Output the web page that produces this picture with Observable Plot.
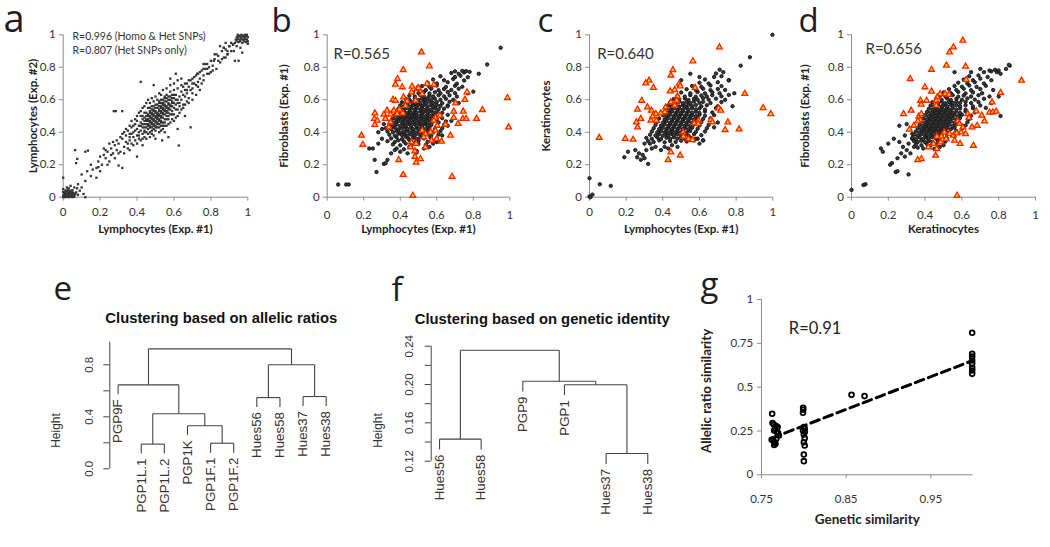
<!DOCTYPE html>
<html><head><meta charset="utf-8">
<script src="https://cdn.jsdelivr.net/npm/d3@7"></script>
<script src="https://cdn.jsdelivr.net/npm/@observablehq/plot@0.6"></script>
<style>
html,body{margin:0;padding:0;background:#fff;}
#fig{position:relative;width:1050px;height:547px;overflow:hidden;background:#fff;}
#fig svg{position:absolute;max-width:none;}
</style></head><body><div id="fig"></div>
<script>
// ---------------- DATA ----------------
const unitTicks = [0, 0.2, 0.4, 0.6, 0.8, 1];

// panel a: Lymphocytes Exp.#1 (x) vs Exp.#2 (y)
const aBlobLow = [[0,0],[0.01,0],[0.02,0.003],[0.03,0],[0.04,0.002],[0.05,0],[0.06,0.003],[0,0.01],[0.01,0.012],[0.02,0.01],[0.03,0.013],[0.04,0.01],[0.05,0.012],[0.06,0.01],[0.005,0.022],[0.015,0.02],[0.025,0.024],[0.035,0.02],[0.045,0.022],[0.055,0.025],[0.065,0.02],[0,0.032],[0.01,0.03],[0.02,0.035],[0.03,0.03],[0.04,0.033],[0.05,0.03],[0.012,0.042],[0.025,0.045],[0.038,0.04],[0.05,0.043],[0.07,0.03],[0.08,0.015],[0.09,0.04],[0.1,0.06],[0.075,0.055],[0.12,0.0],[0.11,0.02],[0.0,0.12],[0.02,0.06],[0.04,0.07],[0.06,0.06],[0.0,0.05],[0.03,0.055]];
const aBlobHigh = [[0.93,0.95],[0.94,0.96],[0.95,0.955],[0.96,0.96],[0.97,0.95],[0.98,0.96],[0.99,0.955],[1.0,0.96],[0.935,0.97],[0.945,0.975],[0.955,0.97],[0.965,0.975],[0.975,0.97],[0.985,0.975],[0.995,0.97],[0.94,0.985],[0.95,0.99],[0.96,0.985],[0.97,0.99],[0.98,0.985],[0.99,0.99],[1.0,0.985],[0.945,1.0],[0.955,0.995],[0.965,1.0],[0.975,0.995],[0.985,1.0],[0.995,1.0],[1.0,0.945],[0.92,0.94],[0.90,0.93],[0.91,0.95],[0.88,0.95],[0.87,0.92],[0.96,0.92],[0.97,0.89],[0.94,0.93],[0.85,0.93],[0.93,0.84],[0.89,0.9]];
const aCloud = [[0.08,0.08],[0.1,0.14],[0.12,0.1],[0.13,0.16],[0.15,0.13],[0.16,0.17],[0.18,0.18],[0.19,0.22],[0.2,0.25],[0.21,0.2],[0.22,0.26],[0.23,0.24],[0.24,0.28],[0.25,0.22],[0.26,0.3],[0.27,0.27],[0.28,0.32],[0.29,0.29],
[0.065,0.29],[0.07,0.21],[0.12,0.28],[0.274,0.53],[0.285,0.53],[0.32,0.53],[0.42,0.71],[0.076,0.236],[0.134,0.287],[0.19,0.185],[0.30,0.195],[0.32,0.18],[0.22,0.3],[0.626,0.318],[0.536,0.35],[0.57,0.37],[0.69,0.43],[0.61,0.76],[0.49,0.69],[0.58,0.73],[0.726,0.76],[0.76,0.82],[0.78,0.79],[0.816,0.84],[0.83,0.88],[0.89,0.88],[0.87,0.92],[0.95,0.84],[0.924,0.90],[0.40,0.25],[0.43,0.32],[0.62,0.42],[0.66,0.50],
[0.30,0.33],[0.31,0.28],[0.32,0.36],[0.33,0.31],[0.34,0.38],[0.34,0.34],[0.35,0.30],[0.35,0.41],[0.36,0.35],[0.36,0.39],[0.37,0.33],[0.37,0.43],[0.38,0.37],[0.38,0.40],[0.39,0.35],[0.39,0.45],
[0.40,0.38],[0.40,0.42],[0.40,0.47],[0.41,0.40],[0.41,0.36],[0.41,0.44],[0.42,0.41],[0.42,0.46],[0.42,0.50],[0.43,0.39],[0.43,0.43],[0.43,0.48],[0.44,0.41],[0.44,0.45],[0.44,0.52],[0.44,0.37],[0.45,0.43],[0.45,0.47],[0.45,0.50],[0.45,0.40],
[0.46,0.42],[0.46,0.45],[0.46,0.48],[0.46,0.51],[0.46,0.55],[0.47,0.40],[0.47,0.44],[0.47,0.47],[0.47,0.50],[0.47,0.53],[0.48,0.43],[0.48,0.46],[0.48,0.49],[0.48,0.52],[0.48,0.56],[0.48,0.39],[0.49,0.45],[0.49,0.48],[0.49,0.51],[0.49,0.54],[0.49,0.42],[0.50,0.44],[0.50,0.47],[0.50,0.50],[0.50,0.53],[0.50,0.57],[0.50,0.41],
[0.51,0.46],[0.51,0.49],[0.51,0.52],[0.51,0.55],[0.51,0.43],[0.52,0.48],[0.52,0.51],[0.52,0.54],[0.52,0.58],[0.52,0.45],[0.53,0.47],[0.53,0.50],[0.53,0.53],[0.53,0.56],[0.53,0.60],[0.53,0.44],[0.54,0.49],[0.54,0.52],[0.54,0.55],[0.54,0.58],[0.54,0.46],[0.55,0.51],[0.55,0.54],[0.55,0.57],[0.55,0.61],[0.55,0.48],[0.55,0.44],
[0.56,0.50],[0.56,0.53],[0.56,0.56],[0.56,0.59],[0.56,0.63],[0.57,0.52],[0.57,0.55],[0.57,0.58],[0.57,0.48],[0.57,0.62],[0.58,0.54],[0.58,0.57],[0.58,0.60],[0.58,0.51],[0.58,0.65],[0.59,0.56],[0.59,0.59],[0.59,0.53],[0.59,0.63],[0.60,0.58],[0.60,0.55],[0.60,0.61],[0.60,0.66],[0.60,0.51],
[0.61,0.57],[0.61,0.63],[0.62,0.60],[0.62,0.54],[0.62,0.67],[0.63,0.62],[0.63,0.58],[0.64,0.65],[0.64,0.60],[0.64,0.69],[0.65,0.63],[0.65,0.57],[0.66,0.66],[0.66,0.62],[0.67,0.70],[0.67,0.64],[0.68,0.68],[0.68,0.61],[0.69,0.72],[0.69,0.66],[0.70,0.70],[0.70,0.64],
[0.71,0.74],[0.72,0.69],[0.73,0.76],[0.73,0.71],[0.74,0.73],[0.75,0.78],[0.75,0.70],[0.76,0.75],[0.77,0.79],[0.77,0.82],[0.78,0.76],[0.79,0.80],[0.80,0.77],[0.80,0.84],[0.81,0.81],[0.82,0.85],[0.83,0.79],[0.84,0.87],[0.85,0.83],[0.86,0.90],[0.87,0.86],[0.88,0.91],[0.89,0.88],[0.90,0.93],[0.91,0.90],[0.92,0.94],
[0.44,0.47],[0.45,0.45],[0.46,0.47],[0.47,0.49],[0.48,0.51],[0.49,0.50],[0.50,0.49],[0.50,0.52],[0.51,0.51],[0.51,0.50],[0.52,0.50],[0.52,0.53],[0.53,0.52],[0.53,0.55],[0.54,0.54],[0.54,0.51],[0.55,0.53],[0.55,0.56],[0.56,0.55],[0.57,0.57],[0.47,0.46],[0.48,0.48],[0.49,0.47],[0.46,0.44],[0.43,0.45],[0.42,0.44],[0.51,0.48],[0.52,0.47],[0.56,0.52],[0.58,0.56],[0.59,0.58],[0.57,0.54],[0.45,0.48],[0.44,0.43],[0.53,0.49],[0.50,0.46],[0.49,0.53],[0.48,0.54],[0.47,0.52],[0.52,0.56],[0.55,0.59],[0.54,0.57],
[0.40,0.50],[0.41,0.52],[0.42,0.53],[0.43,0.55],[0.44,0.56],[0.45,0.58],[0.46,0.60],[0.47,0.58],[0.48,0.61],[0.49,0.59],[0.50,0.62],[0.51,0.60],[0.52,0.64],[0.53,0.63],[0.54,0.66],[0.56,0.67],[0.58,0.69],[0.60,0.70],[0.62,0.72],[0.64,0.73],
[0.45,0.36],[0.47,0.37],[0.49,0.38],[0.50,0.36],[0.52,0.40],[0.53,0.41],[0.54,0.42],[0.55,0.40],[0.56,0.44],[0.57,0.45],[0.58,0.46],[0.59,0.48],[0.60,0.47],[0.61,0.49],[0.62,0.50],[0.63,0.52],[0.64,0.54],[0.65,0.55],[0.66,0.57],[0.67,0.59],[0.68,0.58],[0.70,0.60],[0.72,0.63],[0.74,0.66],
[0.36,0.44],[0.37,0.47],[0.38,0.44],[0.39,0.48],[0.34,0.42],[0.33,0.40],[0.32,0.39],[0.31,0.37],[0.29,0.35],[0.27,0.34],[0.25,0.33],[0.23,0.29],
[0.38,0.32],[0.40,0.33],[0.42,0.35],[0.43,0.36],[0.46,0.39],[0.48,0.41],[0.51,0.45],[0.44,0.40],[0.41,0.38],[0.39,0.41],[0.37,0.39],[0.36,0.37],
[0.46,0.50],[0.47,0.55],[0.45,0.52],[0.44,0.49],[0.43,0.50],[0.49,0.56],[0.50,0.55],[0.51,0.57],[0.52,0.59],[0.53,0.58],[0.54,0.60],[0.55,0.62],[0.56,0.61],[0.57,0.60],[0.58,0.62],[0.59,0.61],[0.60,0.63],[0.61,0.60],[0.62,0.58],[0.63,0.56],[0.61,0.54],[0.59,0.51],[0.57,0.50],[0.56,0.48],[0.55,0.46],[0.54,0.44],[0.53,0.46],[0.52,0.43],[0.50,0.43],[0.49,0.44],[0.48,0.45],[0.47,0.43],
[0.65,0.68],[0.66,0.70],[0.68,0.72],[0.70,0.73],[0.71,0.70],[0.72,0.75],[0.74,0.77],[0.76,0.79],[0.78,0.82],[0.79,0.76],[0.81,0.78],[0.82,0.88],[0.84,0.84],[0.86,0.85],[0.88,0.86],[0.76,0.72],[0.73,0.68],[0.70,0.67],[0.67,0.66],
[0.18,0.12],[0.15,0.2],[0.2,0.16],[0.24,0.2],[0.26,0.26],[0.28,0.24],[0.3,0.27],[0.33,0.27],[0.35,0.33],[0.36,0.29]];

// panel b: Lymphocytes (x) vs Fibroblasts (y)
const bBlack = [[0.38,0.30],[0.42,0.295],[0.45,0.31],[0.49,0.285],[0.53,0.30],[0.56,0.31],
[0.36,0.325],[0.40,0.32],[0.43,0.33],[0.46,0.318],[0.50,0.327],[0.54,0.322],[0.58,0.33],
[0.33,0.345],[0.37,0.34],[0.39,0.35],[0.42,0.343],[0.45,0.352],[0.48,0.338],[0.50,0.347],[0.55,0.341],[0.59,0.35],
[0.35,0.362],[0.38,0.368],[0.41,0.358],[0.43,0.372],[0.445,0.36],[0.47,0.366],[0.49,0.359],[0.51,0.37],[0.53,0.362],[0.565,0.368],[0.60,0.36],
[0.34,0.385],[0.37,0.378],[0.39,0.39],[0.41,0.382],[0.425,0.388],[0.44,0.379],[0.46,0.386],[0.48,0.381],[0.50,0.39],[0.52,0.383],[0.55,0.387],[0.57,0.38],[0.61,0.386],
[0.33,0.405],[0.36,0.40],[0.38,0.408],[0.40,0.398],[0.42,0.404],[0.435,0.41],[0.45,0.401],[0.47,0.407],[0.48,0.399],[0.50,0.405],[0.515,0.41],[0.53,0.402],[0.55,0.408],[0.58,0.40],[0.62,0.406],
[0.32,0.425],[0.35,0.42],[0.37,0.428],[0.39,0.418],[0.41,0.424],[0.43,0.43],[0.44,0.421],[0.46,0.427],[0.47,0.419],[0.49,0.426],[0.50,0.42],[0.52,0.428],[0.54,0.421],[0.56,0.426],[0.59,0.42],[0.63,0.425],
[0.34,0.445],[0.36,0.44],[0.38,0.448],[0.40,0.439],[0.42,0.446],[0.43,0.44],[0.45,0.449],[0.46,0.441],[0.48,0.447],[0.49,0.44],[0.51,0.446],[0.52,0.439],[0.54,0.448],[0.55,0.442],[0.57,0.445],[0.60,0.44],[0.64,0.447],
[0.35,0.465],[0.37,0.46],[0.39,0.468],[0.41,0.459],[0.42,0.466],[0.44,0.46],[0.45,0.469],[0.47,0.461],[0.48,0.467],[0.50,0.46],[0.51,0.466],[0.53,0.459],[0.54,0.468],[0.56,0.462],[0.58,0.466],[0.61,0.46],[0.65,0.467],
[0.36,0.485],[0.38,0.48],[0.40,0.488],[0.41,0.479],[0.43,0.486],[0.44,0.48],[0.46,0.489],[0.47,0.481],[0.49,0.487],[0.50,0.48],[0.52,0.486],[0.53,0.479],[0.55,0.488],[0.56,0.482],[0.58,0.485],[0.60,0.48],[0.63,0.487],
[0.37,0.505],[0.39,0.50],[0.41,0.508],[0.42,0.499],[0.44,0.506],[0.45,0.50],[0.47,0.509],[0.48,0.501],[0.49,0.507],[0.51,0.50],[0.52,0.506],[0.54,0.499],[0.55,0.508],[0.57,0.502],[0.59,0.505],[0.62,0.50],[0.66,0.507],
[0.38,0.525],[0.40,0.52],[0.42,0.528],[0.43,0.519],[0.45,0.526],[0.46,0.52],[0.48,0.529],[0.49,0.521],[0.51,0.527],[0.52,0.52],[0.53,0.526],[0.55,0.519],[0.56,0.528],[0.58,0.522],[0.60,0.525],[0.63,0.52],
[0.39,0.545],[0.41,0.54],[0.43,0.548],[0.45,0.539],[0.46,0.546],[0.48,0.54],[0.49,0.549],[0.51,0.541],[0.52,0.547],[0.54,0.54],[0.55,0.546],[0.57,0.539],[0.59,0.548],[0.61,0.542],[0.64,0.545],
[0.40,0.565],[0.42,0.56],[0.44,0.568],[0.46,0.559],[0.47,0.566],[0.49,0.56],[0.50,0.569],[0.52,0.561],[0.53,0.567],[0.55,0.56],[0.57,0.566],[0.58,0.559],[0.60,0.568],[0.62,0.562],[0.66,0.565],
[0.41,0.585],[0.44,0.58],[0.46,0.588],[0.48,0.579],[0.50,0.586],[0.51,0.58],[0.53,0.589],[0.54,0.581],[0.56,0.587],[0.58,0.58],[0.60,0.586],[0.63,0.579],[0.67,0.588],
[0.43,0.605],[0.45,0.60],[0.48,0.608],[0.50,0.599],[0.52,0.606],[0.54,0.60],[0.55,0.609],[0.57,0.601],[0.59,0.607],[0.62,0.60],[0.65,0.606],[0.69,0.60],
[0.45,0.625],[0.48,0.62],[0.51,0.628],[0.53,0.619],[0.56,0.626],[0.58,0.62],[0.61,0.628],[0.64,0.621],[0.67,0.627],[0.71,0.62],
[0.47,0.645],[0.50,0.64],[0.53,0.648],[0.56,0.639],[0.59,0.646],[0.62,0.64],[0.66,0.648],[0.70,0.641],
[0.50,0.665],[0.54,0.66],[0.57,0.668],[0.61,0.659],[0.64,0.666],[0.68,0.66],[0.72,0.668],
[0.52,0.685],[0.56,0.68],[0.60,0.688],[0.65,0.679],[0.70,0.686],[0.74,0.68],
[0.55,0.705],[0.60,0.70],[0.66,0.708],[0.71,0.699],[0.58,0.725],[0.64,0.72],[0.69,0.728],[0.75,0.719],[0.62,0.745],[0.70,0.74],[0.73,0.748],[0.77,0.739],[0.68,0.765],[0.72,0.76],[0.75,0.768],[0.78,0.772],[0.70,0.775],[0.74,0.778],[0.76,0.776],
[0.83,0.76],[0.876,0.817],[0.95,0.92],[0.80,0.65],[0.77,0.64],[0.72,0.58],[0.66,0.56],[0.30,0.36],[0.28,0.33],[0.23,0.30],[0.25,0.30],[0.26,0.23],[0.27,0.155],[0.31,0.205],[0.32,0.21],[0.33,0.23],[0.35,0.27],[0.37,0.29],[0.40,0.28],[0.44,0.27],[0.49,0.275],[0.06,0.078],[0.104,0.078],[0.118,0.078],[0.30,0.42],[0.31,0.45],[0.28,0.40],[0.60,0.34],[0.63,0.38],[0.66,0.44],[0.68,0.47]];
const bRed = [[0.516,0.893],[0.560,0.807],[0.416,0.784],[0.385,0.729],[0.374,0.694],[0.411,0.678],[0.465,0.682],[0.493,0.667],[0.500,0.673],[0.547,0.698],[0.584,0.692],[0.462,0.647],[0.520,0.636],[0.766,0.647],[0.360,0.600],[0.374,0.595],[0.418,0.616],[0.438,0.591],[0.484,0.595],[0.703,0.579],[0.754,0.600],[0.987,0.612],[0.328,0.534],[0.365,0.534],[0.396,0.540],[0.429,0.563],[0.261,0.517],[0.310,0.509],[0.347,0.509],[0.383,0.513],[0.414,0.517],[0.693,0.528],[0.745,0.528],[0.850,0.538],[0.259,0.483],[0.274,0.472],[0.261,0.446],[0.319,0.483],[0.347,0.462],[0.593,0.489],[0.617,0.503],[0.693,0.489],[0.743,0.483],[0.761,0.483],[0.818,0.483],[0.584,0.472],[0.602,0.441],[0.648,0.448],[0.717,0.452],[0.993,0.431],[0.338,0.431],[0.188,0.380],[0.195,0.324],[0.520,0.411],[0.538,0.390],[0.566,0.400],[0.593,0.411],[0.529,0.370],[0.571,0.349],[0.599,0.359],[0.626,0.343],[0.675,0.380],[0.462,0.339],[0.487,0.329],[0.538,0.308],[0.456,0.308],[0.480,0.283],[0.480,0.250],[0.511,0.236],[0.487,0.214],[0.392,0.230],[0.416,0.138],[0.684,0.127],[0.469,0.010]];

// panel c: Lymphocytes (x) vs Keratinocytes (y)
const cBlack = [[0.19,0.246],[0.26,0.246],[0.28,0.23],[0.30,0.24],[0.32,0.205],[0.31,0.29],[0.27,0.27],[0.29,0.26],[0.34,0.30],[0.36,0.31],[0.30,0.33],[0.33,0.33],[0.41,0.31],[0.45,0.32],[0.43,0.30],[0.48,0.31],[0.39,0.29],[0.21,0.28],[0.25,0.29],
[0.32,0.345],[0.35,0.34],[0.38,0.35],[0.41,0.338],[0.44,0.346],[0.47,0.34],[0.50,0.348],[0.53,0.343],[0.57,0.35],[0.62,0.35],
[0.31,0.365],[0.34,0.36],[0.37,0.368],[0.39,0.358],[0.42,0.366],[0.44,0.36],[0.46,0.369],[0.48,0.361],[0.50,0.367],[0.52,0.36],[0.55,0.366],[0.59,0.36],
[0.33,0.385],[0.36,0.38],[0.38,0.388],[0.40,0.379],[0.42,0.386],[0.43,0.38],[0.45,0.389],[0.46,0.381],[0.48,0.387],[0.50,0.38],[0.52,0.386],[0.54,0.379],[0.57,0.388],[0.61,0.382],
[0.34,0.405],[0.37,0.40],[0.39,0.408],[0.41,0.399],[0.42,0.406],[0.44,0.40],[0.45,0.409],[0.47,0.401],[0.48,0.407],[0.50,0.40],[0.51,0.406],[0.53,0.399],[0.55,0.408],[0.58,0.402],[0.63,0.405],
[0.35,0.425],[0.38,0.42],[0.40,0.428],[0.42,0.419],[0.43,0.426],[0.45,0.42],[0.46,0.429],[0.48,0.421],[0.49,0.427],[0.51,0.42],[0.52,0.426],[0.54,0.419],[0.56,0.428],[0.59,0.422],[0.64,0.425],[0.68,0.43],
[0.36,0.445],[0.39,0.44],[0.41,0.448],[0.43,0.439],[0.44,0.446],[0.46,0.44],[0.47,0.449],[0.49,0.441],[0.50,0.447],[0.52,0.44],[0.53,0.446],[0.55,0.439],[0.57,0.448],[0.60,0.442],[0.65,0.445],
[0.37,0.465],[0.40,0.46],[0.42,0.468],[0.44,0.459],[0.45,0.466],[0.47,0.46],[0.48,0.469],[0.50,0.461],[0.51,0.467],[0.53,0.46],[0.54,0.466],[0.56,0.459],[0.58,0.468],[0.61,0.462],[0.70,0.46],
[0.38,0.485],[0.41,0.48],[0.43,0.488],[0.45,0.479],[0.46,0.486],[0.48,0.48],[0.49,0.489],[0.51,0.481],[0.52,0.487],[0.54,0.48],[0.55,0.486],[0.57,0.479],[0.59,0.488],[0.62,0.482],[0.66,0.485],
[0.40,0.505],[0.42,0.50],[0.44,0.508],[0.46,0.499],[0.47,0.506],[0.49,0.50],[0.50,0.509],[0.52,0.501],[0.53,0.507],[0.55,0.50],[0.56,0.506],[0.58,0.499],[0.60,0.508],[0.63,0.502],[0.68,0.505],
[0.41,0.525],[0.43,0.52],[0.45,0.528],[0.47,0.519],[0.48,0.526],[0.50,0.52],[0.51,0.529],[0.53,0.521],[0.54,0.527],[0.56,0.52],[0.58,0.526],[0.60,0.519],[0.63,0.528],[0.67,0.522],
[0.42,0.545],[0.44,0.54],[0.46,0.548],[0.48,0.539],[0.49,0.546],[0.51,0.54],[0.53,0.549],[0.54,0.541],[0.56,0.547],[0.58,0.54],[0.60,0.546],[0.63,0.539],[0.69,0.548],
[0.43,0.565],[0.45,0.56],[0.47,0.568],[0.49,0.559],[0.51,0.566],[0.52,0.56],[0.54,0.569],[0.56,0.561],[0.58,0.567],[0.61,0.56],[0.64,0.566],[0.70,0.56],
[0.44,0.585],[0.47,0.58],[0.49,0.588],[0.51,0.579],[0.53,0.586],[0.55,0.58],[0.57,0.589],[0.60,0.581],[0.62,0.587],[0.66,0.58],[0.72,0.586],
[0.46,0.605],[0.49,0.60],[0.52,0.608],[0.54,0.599],[0.57,0.606],[0.59,0.60],[0.62,0.609],[0.65,0.601],[0.69,0.607],[0.74,0.60],
[0.48,0.625],[0.52,0.62],[0.55,0.628],[0.58,0.619],[0.61,0.626],[0.64,0.62],[0.67,0.628],[0.72,0.621],[0.76,0.63],
[0.50,0.645],[0.55,0.64],[0.59,0.648],[0.63,0.639],[0.67,0.646],[0.71,0.64],[0.79,0.64],[0.53,0.665],[0.58,0.66],[0.62,0.668],[0.66,0.659],[0.70,0.666],[0.74,0.66],
[0.56,0.685],[0.61,0.68],[0.66,0.688],[0.72,0.684],[0.60,0.705],[0.65,0.70],[0.70,0.708],[0.76,0.72],[0.63,0.725],[0.68,0.74],[0.72,0.745],[0.69,0.762],[0.73,0.77],[0.71,0.785],[0.60,0.74],[0.55,0.76],[0.50,0.72],
[0.825,0.81],[0.875,0.862],[0.998,1.0],[0.76,0.72],[0.78,0.56],[0.0,0.117],[0.056,0.08],[0.116,0.07],[0.016,0.016],[0.0,0.004],[0.005,0.0],[0.62,0.35],[0.60,0.33],[0.58,0.36]];
const cRed = [[0.709,0.924],[0.564,0.838],[0.455,0.784],[0.444,0.750],[0.325,0.719],[0.307,0.702],[0.349,0.674],[0.489,0.698],[0.495,0.684],[0.465,0.661],[0.440,0.653],[0.576,0.674],[0.847,0.637],[0.480,0.620],[0.476,0.595],[0.285,0.595],[0.444,0.585],[0.416,0.554],[0.316,0.554],[0.338,0.534],[0.262,0.540],[0.411,0.524],[0.465,0.565],[0.389,0.517],[0.362,0.513],[0.344,0.497],[0.365,0.472],[0.335,0.472],[0.280,0.483],[0.256,0.462],[0.262,0.431],[0.704,0.548],[0.716,0.534],[0.947,0.550],[0.989,0.513],[0.571,0.456],[0.595,0.472],[0.593,0.452],[0.662,0.476],[0.671,0.462],[0.755,0.462],[0.740,0.415],[0.816,0.419],[0.053,0.366],[0.195,0.360],[0.238,0.355],[0.511,0.400],[0.513,0.374],[0.540,0.359],[0.562,0.353],[0.444,0.277],[0.495,0.257],[0.429,0.230]];

// panel d: Keratinocytes (x) vs Fibroblasts (y)
const dBlack = [[0.16,0.30],[0.17,0.28],[0.20,0.33],[0.21,0.20],[0.22,0.21],[0.24,0.155],[0.25,0.24],[0.25,0.16],[0.31,0.14],[0.27,0.27],[0.28,0.31],[0.29,0.25],[0.30,0.29],[0.31,0.33],[0.26,0.34],[0.32,0.27],[0.33,0.36],[0.34,0.31],[0.0,0.045],[0.065,0.075],[0.076,0.08],[0.23,0.36],[0.29,0.38],[0.33,0.39],
[0.36,0.305],[0.39,0.30],[0.42,0.31],[0.45,0.298],[0.48,0.31],
[0.35,0.325],[0.38,0.32],[0.41,0.328],[0.43,0.318],[0.46,0.326],[0.50,0.32],
[0.34,0.345],[0.36,0.34],[0.38,0.348],[0.40,0.339],[0.42,0.346],[0.44,0.34],[0.47,0.348],[0.51,0.342],
[0.33,0.365],[0.35,0.36],[0.37,0.368],[0.39,0.359],[0.41,0.366],[0.42,0.36],[0.44,0.369],[0.46,0.361],[0.48,0.367],[0.52,0.36],
[0.34,0.385],[0.36,0.38],[0.38,0.388],[0.40,0.379],[0.41,0.386],[0.43,0.38],[0.44,0.389],[0.46,0.381],[0.47,0.387],[0.49,0.38],[0.52,0.386],[0.55,0.38],
[0.35,0.405],[0.37,0.40],[0.39,0.408],[0.40,0.399],[0.42,0.406],[0.43,0.40],[0.45,0.409],[0.46,0.401],[0.48,0.407],[0.49,0.40],[0.51,0.406],[0.53,0.399],[0.57,0.408],
[0.36,0.425],[0.38,0.42],[0.40,0.428],[0.41,0.419],[0.43,0.426],[0.44,0.42],[0.46,0.429],[0.47,0.421],[0.49,0.427],[0.50,0.42],[0.52,0.426],[0.54,0.419],[0.56,0.428],[0.60,0.422],
[0.37,0.445],[0.39,0.44],[0.41,0.448],[0.42,0.439],[0.44,0.446],[0.45,0.44],[0.47,0.449],[0.48,0.441],[0.50,0.447],[0.51,0.44],[0.53,0.446],[0.55,0.439],[0.57,0.448],[0.62,0.442],
[0.38,0.465],[0.40,0.46],[0.42,0.468],[0.43,0.459],[0.45,0.466],[0.46,0.46],[0.48,0.469],[0.49,0.461],[0.51,0.467],[0.52,0.46],[0.54,0.466],[0.56,0.459],[0.58,0.468],[0.63,0.462],
[0.39,0.485],[0.41,0.48],[0.43,0.488],[0.44,0.479],[0.46,0.486],[0.47,0.48],[0.49,0.489],[0.50,0.481],[0.52,0.487],[0.53,0.48],[0.55,0.486],[0.57,0.479],[0.59,0.488],[0.64,0.482],
[0.40,0.505],[0.42,0.50],[0.44,0.508],[0.45,0.499],[0.47,0.506],[0.48,0.50],[0.50,0.509],[0.51,0.501],[0.53,0.507],[0.54,0.50],[0.56,0.506],[0.58,0.499],[0.60,0.508],[0.65,0.502],
[0.41,0.525],[0.43,0.52],[0.45,0.528],[0.46,0.519],[0.48,0.526],[0.49,0.52],[0.51,0.529],[0.52,0.521],[0.54,0.527],[0.55,0.52],[0.57,0.526],[0.59,0.519],[0.62,0.528],[0.67,0.522],
[0.42,0.545],[0.44,0.54],[0.46,0.548],[0.47,0.539],[0.49,0.546],[0.50,0.54],[0.52,0.549],[0.53,0.541],[0.55,0.547],[0.57,0.54],[0.59,0.546],[0.62,0.539],[0.66,0.548],
[0.43,0.565],[0.45,0.56],[0.47,0.568],[0.49,0.559],[0.50,0.566],[0.52,0.56],[0.54,0.569],[0.55,0.561],[0.57,0.567],[0.59,0.56],[0.62,0.566],[0.66,0.559],[0.70,0.565],
[0.44,0.585],[0.47,0.58],[0.49,0.588],[0.51,0.579],[0.53,0.586],[0.55,0.58],[0.57,0.589],[0.59,0.581],[0.62,0.587],[0.65,0.58],[0.69,0.586],
[0.46,0.605],[0.49,0.60],[0.52,0.608],[0.54,0.599],[0.57,0.606],[0.60,0.60],[0.63,0.608],[0.67,0.601],[0.72,0.606],
[0.48,0.625],[0.51,0.62],[0.55,0.628],[0.58,0.619],[0.61,0.626],[0.65,0.62],[0.69,0.628],[0.75,0.62],
[0.50,0.645],[0.54,0.64],[0.58,0.648],[0.62,0.639],[0.66,0.646],[0.71,0.64],[0.53,0.665],[0.57,0.66],[0.61,0.668],[0.65,0.659],[0.70,0.666],[0.77,0.66],[0.56,0.685],[0.60,0.68],[0.64,0.688],[0.68,0.679],[0.73,0.686],[0.58,0.705],[0.63,0.70],[0.67,0.708],[0.72,0.70],
[0.61,0.725],[0.66,0.72],[0.70,0.73],[0.76,0.72],[0.64,0.745],[0.69,0.75],[0.74,0.74],[0.72,0.77],[0.76,0.775],[0.79,0.77],[0.81,0.76],[0.75,0.78],[0.78,0.785],[0.80,0.78],[0.84,0.79],[0.86,0.81],[0.855,0.815],[0.70,0.79],[0.65,0.77],[0.56,0.77],
[0.80,0.62],[0.81,0.50],[0.73,0.55],[0.76,0.58],[0.26,0.44],[0.30,0.45]];
const dRed = [[0.605,0.965],[0.554,0.924],[0.533,0.893],[0.516,0.811],[0.620,0.805],[0.435,0.786],[0.319,0.729],[0.924,0.719],[0.623,0.723],[0.399,0.678],[0.435,0.651],[0.482,0.636],[0.509,0.636],[0.529,0.632],[0.466,0.616],[0.460,0.595],[0.375,0.595],[0.408,0.595],[0.379,0.571],[0.460,0.565],[0.810,0.643],[0.764,0.585],[0.283,0.513],[0.324,0.534],[0.366,0.497],[0.380,0.513],[0.373,0.476],[0.361,0.468],[0.339,0.441],[0.315,0.417],[0.632,0.513],[0.638,0.489],[0.678,0.530],[0.708,0.503],[0.723,0.468],[0.750,0.522],[0.768,0.524],[0.786,0.528],[0.578,0.468],[0.587,0.452],[0.605,0.431],[0.655,0.431],[0.683,0.441],[0.663,0.318],[0.505,0.400],[0.533,0.390],[0.554,0.380],[0.572,0.394],[0.596,0.400],[0.620,0.390],[0.489,0.374],[0.464,0.374],[0.514,0.359],[0.560,0.349],[0.590,0.329],[0.484,0.339],[0.446,0.329],[0.464,0.298],[0.418,0.308],[0.457,0.257],[0.380,0.236],[0.360,0.230],[0.574,0.010]];

// panel e: hierarchical clustering on allelic ratios
const eLeaves = ["PGP9F","PGP1L.1","PGP1L.2","PGP1K","PGP1F.1","PGP1F.2","Hues56","Hues58","Hues37","Hues38"];
const eMerges = [[-2,-3,0.19],[-5,-6,0.197],[-7,-8,0.548],[-9,-10,0.556],[-4,2,0.331],[1,5,0.423],[-1,6,0.646],[3,4,0.80],[7,8,0.923]];
const eHang = 0.073;
const eTicks = [0, 0.2, 0.4, 0.6, 0.8];
const eTickLabels = [0, 0.4, 0.8];

// panel f: hierarchical clustering on genetic identity
const fLeaves = ["Hues56","Hues58","PGP9","PGP1","Hues37","Hues38"];
const fMerges = [[-5,-6,0.128],[-1,-2,0.143],[-4,1,0.1997],[-3,3,0.2035],[2,4,0.2358]];
const fHang = 0.0108;
const fTicks = [0.12, 0.14, 0.16, 0.18, 0.20, 0.22, 0.24];
const fTickLabels = [0.12, 0.16, 0.20, 0.24];

// panel g: genetic similarity vs allelic ratio similarity
const gPoints = [[0.7626,0.348],[0.7630,0.295],[0.7645,0.287],[0.7670,0.280],[0.7690,0.272],[0.7660,0.262],[0.7650,0.253],[0.7680,0.244],[0.7695,0.238],[0.7705,0.224],[0.7620,0.200],[0.7640,0.195],[0.7655,0.186],[0.7665,0.177],[0.7650,0.170],[0.7675,0.205],
[0.7992,0.382],[0.7992,0.371],[0.7990,0.354],[0.8000,0.272],[0.8010,0.265],[0.7990,0.253],[0.8012,0.245],[0.8000,0.230],[0.8010,0.209],[0.8000,0.186],[0.8010,0.167],[0.8000,0.116],[0.8000,0.078],
[0.8563,0.456],[0.8717,0.449],
[0.9988,0.810],[0.9988,0.690],[0.9988,0.675],[0.9988,0.652],[0.9988,0.633],[0.9988,0.610],[0.9988,0.595],[0.9988,0.576]];
const gXTicks = [0.75, 0.85, 0.95];
const gYTicks = [0, 0.25, 0.5, 0.75, 1];

// ---------------- DRAWING ----------------
const EXCEL = "Lato, 'Open Sans', sans-serif";
const RFONT = "'Liberation Sans', Arial, sans-serif";
const LETTER = "'Open Sans', sans-serif";
const AXIS = "#8c8c8c";
const fig = document.getElementById("fig");
function put(svg, left, top) { svg.style.left = left + "px"; svg.style.top = top + "px"; fig.appendChild(svg); }
const X = d => d[0], Y = d => d[1];
const label = (t, o) => Plot.text([t], {text: d => d, ...o});

function scatter(p) {
  const H = 240, mT = 34.3, mB = H - 196.7;
  const fx = p.left + p.mL;
  const marks = [
    Plot.ruleX([0], {stroke: AXIS}),
    Plot.ruleY([0], {stroke: AXIS}),
    Plot.axisX({ticks: unitTicks, tickFormat: d => String(d), tickSize: 4, tickPadding: p.xPad, stroke: AXIS, fill: "#333", label: null}),
    Plot.axisY({ticks: unitTicks, tickFormat: d => String(d), tickSize: 4, tickPadding: 3.5, stroke: AXIS, fill: "#333", label: null})
  ];
  (p.squares || []).forEach(s => marks.push(Plot.dot(s, {x: X, y: Y, symbol: "square", r: 1.3, fill: "#333"})));
  if (p.black) marks.push(Plot.dot(p.black, {x: X, y: Y, r: 1.7, fill: "#3a3a3a", stroke: "#111", strokeWidth: 0.9}));
  if (p.red) marks.push(Plot.dot(p.red, {x: X, y: Y, symbol: "triangle", r: 2.15, fill: "#ffd200", stroke: "#ff2200", strokeWidth: 1.3}));
  p.notes.forEach(n => marks.push(label(n.text, {frameAnchor: "top-left", dx: n.x - fx, dy: n.y - mT, textAnchor: "start", lineAnchor: "middle", fontSize: n.size, fill: "#333"})));
  marks.push(label(p.ylab, {frameAnchor: "left", dx: p.ylabX - fx, rotate: -90, textAnchor: "middle", fontWeight: "bold", fontSize: 11.5, fill: "#222"}));
  marks.push(label(p.xlab, {frameAnchor: "bottom", dy: 232 - 196.7, textAnchor: "middle", fontWeight: "bold", fontSize: 11.5, fill: "#222"}));
  marks.push(label(p.letter, {frameAnchor: "top-left", dx: p.letterX - fx, dy: 31 - mT, textAnchor: "start", lineAnchor: "bottom", fontSize: p.letterSize || 33, fontFamily: LETTER, fill: "#1e1e1e"}));
  const svg = Plot.plot({width: p.width, height: H, marginLeft: p.mL, marginRight: p.mR, marginTop: mT, marginBottom: mB,
    x: {domain: [0, 1]}, y: {domain: [0, 1]},
    style: {background: "none", overflow: "visible", fontFamily: EXCEL, fontSize: "11.5px"}, marks});
  put(svg, p.left, 0);
}

scatter({left: 0, width: 290, mL: 62.7, mR: 42.7, xPad: 7, squares: [aBlobLow, aBlobHigh, aCloud],
  notes: [{text: "R=0.996 (Homo & Het SNPs)", x: 72, y: 36.5, size: 10.5}, {text: "R=0.807 (Het SNPs only)", x: 72, y: 50.5, size: 10.5}],
  ylab: "Lymphocytes (Exp. #2)", ylabX: 33, xlab: "Lymphocytes (Exp. #1)", letter: "a", letterX: 3, letterSize: 38});
scatter({left: 290, width: 260, mL: 36.7, mR: 40.7, xPad: 10, black: bBlack, red: bRed,
  notes: [{text: "R=0.565", x: 333, y: 53.3, size: 15}],
  ylab: "Fibroblasts (Exp. #1)", ylabX: 284, xlab: "Lymphocytes (Exp. #1)", letter: "b", letterX: 271});
scatter({left: 550, width: 240, mL: 39, mR: 17.7, xPad: 7, black: cBlack, red: cRed,
  notes: [{text: "R=0.640", x: 596.7, y: 53.3, size: 15}],
  ylab: "Keratinocytes", ylabX: 546, xlab: "Lymphocytes (Exp. #1)", letter: "c", letterX: 537});
scatter({left: 790, width: 260, mL: 61, mR: 15, xPad: 10, black: dBlack, red: dRed,
  notes: [{text: "R=0.656", x: 865, y: 48.3, size: 15}],
  ylab: "Fibroblasts (Exp. #1)", ylabX: 805, xlab: "Keratinocytes", letter: "d", letterX: 798});

function dendro(leaves, merges, hang) {
  const nodes = [], segs = [], leafTop = [];
  const get = (c, h) => c < 0 ? {x: -c, y: h - hang, leaf: -c - 1} : nodes[c - 1];
  merges.forEach(([a, b, h]) => {
    const A = get(a, h), B = get(b, h);
    [A, B].forEach(n => { segs.push({x1: n.x, y1: n.y, x2: n.x, y2: h}); if (n.leaf !== undefined) leafTop[n.leaf] = n.y; });
    segs.push({x1: A.x, y1: h, x2: B.x, y2: h});
    nodes.push({x: (A.x + B.x) / 2, y: h});
  });
  return {segs, labels: leaves.map((name, i) => ({name, x: i + 1, y: leafTop[i]}))};
}

function dendroPanel(p) {
  const D = dendro(p.leaves, p.merges, p.hang);
  const fx = p.left + p.mL, fy = 250 + p.mT, fb = 547 - p.mB;
  const svg = Plot.plot({width: p.width, height: 297, marginLeft: p.mL, marginRight: p.mR, marginTop: p.mT, marginBottom: p.mB,
    x: {domain: p.xDomain, axis: null}, y: {domain: p.yDomain},
    style: {background: "none", overflow: "visible", fontFamily: RFONT, fontSize: "12px"},
    marks: [
      Plot.ruleX([p.xDomain[0]], {stroke: "#444"}),
      Plot.axisY({ticks: p.ticks, tickSize: 6, tickFormat: () => "", stroke: "#444", label: null}),
      Plot.text(p.tickLabels, {y: d => d, text: d => d.toFixed(p.digits), frameAnchor: "left", dx: p.tickDx, rotate: -90, textAnchor: "middle", fontSize: 11.5, fill: "#333"}),
      label("Height", {frameAnchor: "bottom-left", dx: p.heightX - fx, dy: 430 - fb, rotate: -90, textAnchor: "middle", fontSize: 12, fill: "#333"}),
      Plot.link(D.segs, {x1: "x1", y1: "y1", x2: "x2", y2: "y2", stroke: "#444", strokeWidth: 1.1}),
      Plot.text(D.labels, {x: "x", y: "y", text: "name", rotate: -90, textAnchor: "end", dy: 5, fontSize: 13.3, fill: "#3a3232"}),
      label(p.title, {frameAnchor: "top-left", dx: p.titleX - fx, dy: p.titleY - fy, textAnchor: "middle", fontWeight: "bold", fontSize: 14.8, fill: "#111"}),
      label(p.letter, {frameAnchor: "top-left", dx: p.letterX - fx, dy: p.letterY - fy, textAnchor: "start", lineAnchor: "bottom", fontSize: 33, fontFamily: LETTER, fill: "#1e1e1e"})
    ]});
  put(svg, p.left, 250);
}

dendroPanel({left: 0, width: 360, mL: 109.3, mR: 26, mT: 91.7, mB: 78.7, xDomain: [0.64, 10.36], yDomain: [0, 0.974],
  leaves: eLeaves, merges: eMerges, hang: eHang, ticks: eTicks, tickLabels: eTickLabels, digits: 1, tickDx: -20.3,
  heightX: 59, title: "Clustering based on allelic ratios", titleX: 220.8, titleY: 312.3, letter: "e", letterX: 53, letterY: 299.5});
dendroPanel({left: 360, width: 330, mL: 70.7, mR: 34.4, mT: 95.7, mB: 86.3, xDomain: [0.8, 6.2], yDomain: [0.12, 0.24],
  leaves: fLeaves, merges: fMerges, hang: fHang, ticks: fTicks, tickLabels: fTickLabels, digits: 2, tickDx: -21.7,
  heightX: 381, title: "Clustering based on genetic identity", titleX: 541.7, titleY: 313.3, letter: "f", letterX: 391, letterY: 300});

(function () {
  const left = 690, mL = 71, mT = 49;
  const fx = left + mL, fy = 250 + mT;
  const svg = Plot.plot({width: 360, height: 297, marginLeft: mL, marginRight: 77.3, marginTop: mT, marginBottom: 72.7,
    x: {domain: [0.75, 1]}, y: {domain: [0, 1]},
    style: {background: "none", overflow: "visible", fontFamily: EXCEL, fontSize: "11.5px"},
    marks: [
      Plot.ruleX([0.75], {stroke: AXIS}),
      Plot.ruleY([0], {stroke: AXIS}),
      Plot.axisX({ticks: gXTicks, tickFormat: d => d.toFixed(2), tickSize: 4, tickPadding: 16, stroke: AXIS, fill: "#333", label: null}),
      Plot.axisY({ticks: gYTicks, tickFormat: d => String(d), tickSize: 4, tickPadding: 4.3, stroke: AXIS, fill: "#333", label: null}),
      Plot.linearRegressionY(gPoints, {x: X, y: Y, ci: 0, stroke: "#000", strokeWidth: 3, strokeDasharray: "9,5"}),
      Plot.dot(gPoints, {x: X, y: Y, r: 2.4, stroke: "#000", strokeWidth: 1.8, fill: "none"}),
      label("R=0.91", {frameAnchor: "top-left", dx: 788.3 - fx, dy: 321.7 - fy, textAnchor: "start", fontSize: 16.5, fill: "#222"}),
      label("Allelic ratio similarity", {frameAnchor: "left", dx: 706.7 - fx, dy: 3.8, rotate: -90, textAnchor: "middle", fontWeight: "bold", fontSize: 13.3, fill: "#222"}),
      label("Genetic similarity", {frameAnchor: "bottom", dy: 49, textAnchor: "middle", fontWeight: "bold", fontSize: 13.5, fill: "#222"}),
      label("g", {frameAnchor: "top-left", dx: 700 - fx, dy: 295.5 - fy, textAnchor: "start", lineAnchor: "bottom", fontSize: 33, fontFamily: LETTER, fill: "#1e1e1e"})
    ]});
  put(svg, left, 250);
})();
</script></body></html>
